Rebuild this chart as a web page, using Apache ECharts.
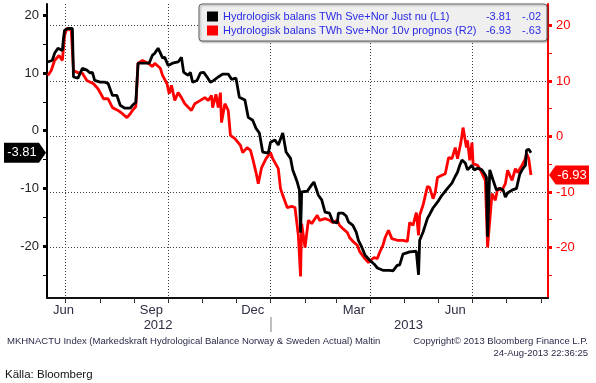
<!DOCTYPE html>
<html><head><meta charset="utf-8">
<script src="https://cdn.jsdelivr.net/npm/echarts@6/dist/echarts.min.js"></script>
<style>html,body{margin:0;padding:0;background:#fff}#c{width:596px;height:383px}</style>
</head><body><div id="c"></div><script>
// ---- data ----
const seriesNames = ['Hydrologisk balans TWh Sve+Nor Just nu (L1)', 'Hydrologisk balans TWh Sve+Nor 10v prognos (R2)'];
const legendValues = [['-3.81', '-.02'], ['-6.93', '-.63']];
const blackDates = ['2012-06-15','2012-06-19','2012-06-21','2012-06-24','2012-06-28','2012-06-29','2012-06-30','2012-07-03','2012-07-07','2012-07-08','2012-07-12','2012-07-16','2012-07-20','2012-07-23','2012-07-25','2012-07-27','2012-08-01','2012-08-05','2012-08-08','2012-08-12','2012-08-16','2012-08-19','2012-08-23','2012-08-28','2012-08-30','2012-09-02','2012-09-04','2012-09-10','2012-09-14','2012-09-17','2012-09-19','2012-09-22','2012-09-26','2012-09-28','2012-10-01','2012-10-05','2012-10-10','2012-10-13','2012-10-15','2012-10-19','2012-10-21','2012-10-23','2012-10-27','2012-10-30','2012-11-02','2012-11-05','2012-11-08','2012-11-11','2012-11-15','2012-11-19','2012-11-24','2012-11-27','2012-12-01','2012-12-04','2012-12-09','2012-12-12','2012-12-16','2012-12-19','2012-12-22','2012-12-25','2012-12-30','2013-01-01','2013-01-05','2013-01-08','2013-01-12','2013-01-15','2013-01-19','2013-01-21','2013-01-25','2013-01-27','2013-01-28','2013-01-29','2013-02-03','2013-02-07','2013-02-09','2013-02-13','2013-02-16','2013-02-19','2013-02-23','2013-02-26','2013-03-02','2013-03-03','2013-03-07','2013-03-10','2013-03-12','2013-03-16','2013-03-19','2013-03-21','2013-03-24','2013-03-27','2013-03-31','2013-04-04','2013-04-07','2013-04-12','2013-04-18','2013-04-21','2013-04-25','2013-04-27','2013-04-30','2013-05-06','2013-05-12','2013-05-14','2013-05-15','2013-05-18','2013-05-22','2013-05-24','2013-05-27','2013-05-31','2013-06-04','2013-06-09','2013-06-13','2013-06-16','2013-06-18','2013-06-20','2013-06-22','2013-06-25','2013-06-27','2013-07-01','2013-07-03','2013-07-06','2013-07-10','2013-07-13','2013-07-14','2013-07-15','2013-07-17','2013-07-20','2013-07-23','2013-07-26','2013-07-29','2013-07-31','2013-08-02','2013-08-06','2013-08-10','2013-08-13','2013-08-16','2013-08-18','2013-08-19','2013-08-21','2013-08-23'];
const blackValues = [11.9,12.2,13.4,14.3,13.9,16.0,17.4,17.7,17.7,9.3,9.1,10.8,10.5,10.0,10.1,8.7,8.4,8.4,8.2,6.1,6.1,4.4,3.9,3.9,4.4,4.9,11.7,11.7,11.7,13.1,13.4,14.3,12.6,12.7,11.3,11.7,11.9,12.7,10.1,9.6,10.1,8.4,8.7,10.0,10.1,9.3,8.4,8.7,9.3,9.8,9.8,8.9,9.1,5.8,5.3,2.3,1.8,0.4,-0.4,-3.7,-3.9,-2.0,-1.6,-2.5,-0.4,-3.7,-4.8,-6.8,-8.9,-10.3,-17.7,-10.6,-10.5,-9.4,-8.9,-11.2,-12.0,-14.1,-14.3,-15.8,-16.0,-14.3,-14.3,-14.8,-15.8,-16.4,-17.6,-19.0,-20.2,-21.6,-22.4,-23.1,-23.8,-24.2,-24.2,-24.3,-23.3,-23.3,-21.4,-21.0,-20.9,-25.0,-19.0,-17.6,-15.2,-14.5,-13.4,-12.4,-11.2,-10.0,-9.1,-7.9,-7.2,-6.0,-5.1,-5.6,-6.8,-6.0,-6.8,-6.5,-6.8,-7.7,-8.1,-18.4,-6.8,-8.6,-10.3,-10.0,-10.3,-11.5,-10.8,-10.3,-10.0,-7.5,-6.5,-6.0,-3.4,-3.2,-3.81];
const redDates = ['2012-06-15','2012-06-18','2012-06-21','2012-06-25','2012-06-28','2012-06-30','2012-07-02','2012-07-06','2012-07-08','2012-07-12','2012-07-16','2012-07-20','2012-07-26','2012-07-30','2012-08-04','2012-08-08','2012-08-12','2012-08-17','2012-08-21','2012-08-25','2012-08-28','2012-08-30','2012-09-02','2012-09-04','2012-09-08','2012-09-13','2012-09-17','2012-09-19','2012-09-24','2012-09-26','2012-09-30','2012-10-02','2012-10-04','2012-10-07','2012-10-10','2012-10-13','2012-10-16','2012-10-22','2012-10-25','2012-10-30','2012-11-03','2012-11-06','2012-11-09','2012-11-10','2012-11-13','2012-11-15','2012-11-17','2012-11-18','2012-11-21','2012-11-24','2012-11-26','2012-11-30','2012-12-05','2012-12-07','2012-12-11','2012-12-14','2012-12-16','2012-12-19','2012-12-21','2012-12-24','2012-12-28','2013-01-01','2013-01-03','2013-01-08','2013-01-10','2013-01-12','2013-01-16','2013-01-20','2013-01-23','2013-01-26','2013-01-28','2013-01-29','2013-02-01','2013-02-04','2013-02-07','2013-02-12','2013-02-14','2013-02-19','2013-02-23','2013-02-26','2013-03-02','2013-03-04','2013-03-07','2013-03-11','2013-03-13','2013-03-16','2013-03-20','2013-03-22','2013-03-26','2013-03-30','2013-04-01','2013-04-04','2013-04-07','2013-04-09','2013-04-12','2013-04-14','2013-04-17','2013-04-20','2013-04-25','2013-04-30','2013-05-04','2013-05-06','2013-05-09','2013-05-12','2013-05-14','2013-05-15','2013-05-18','2013-05-22','2013-05-24','2013-05-27','2013-05-29','2013-05-31','2013-06-04','2013-06-07','2013-06-10','2013-06-13','2013-06-16','2013-06-18','2013-06-21','2013-06-23','2013-06-26','2013-06-27','2013-06-29','2013-07-01','2013-07-02','2013-07-06','2013-07-08','2013-07-13','2013-07-15','2013-07-19','2013-07-22','2013-07-24','2013-07-28','2013-07-31','2013-08-02','2013-08-06','2013-08-09','2013-08-11','2013-08-15','2013-08-18','2013-08-19','2013-08-21','2013-08-23'];
const redValues = [11.0,11.9,13.7,14.6,13.7,18.2,19.5,19.1,11.9,11.5,11.4,10.1,9.5,8.6,6.8,6.8,5.2,4.7,4.1,3.4,4.1,4.7,5.4,13.2,13.7,13.2,12.6,13.2,12.3,11.0,9.5,7.7,9.2,6.5,7.9,7.0,5.9,4.7,5.9,6.5,7.0,6.5,7.4,5.2,7.6,5.2,7.9,2.5,5.9,4.7,0.2,-0.4,-1.6,-2.9,-2.0,-2.5,-4.0,-6.5,-8.5,-5.6,-4.0,-2.9,-4.0,-5.8,-9.4,-10.6,-12.8,-12.6,-12.8,-17.8,-25.2,-15.7,-20.0,-15.1,-15.7,-14.2,-15.1,-14.8,-15.1,-15.5,-15.1,-16.0,-16.6,-17.3,-18.2,-18.9,-19.6,-20.7,-21.8,-22.7,-22.3,-21.8,-22.0,-20.9,-19.6,-18.2,-16.9,-18.4,-18.7,-18.7,-18.9,-15.5,-16.0,-13.7,-17.8,-14.2,-12.4,-9.0,-9.2,-11.2,-10.1,-7.4,-7.0,-6.7,-3.8,-4.0,-2.0,-4.0,-1.1,1.6,-2.0,-0.7,-4.3,-1.1,-4.9,-5.2,-5.8,-7.9,-20.0,-10.3,-11.5,-9.4,-9.7,-8.5,-6.1,-7.9,-5.8,-6.5,-5.2,-4.0,-3.1,-4.0,-6.93];
const monthTickDates = ['2012-07-01','2012-08-01','2012-09-01','2012-10-01','2012-11-01','2012-12-01','2013-01-01','2013-02-01','2013-03-01','2013-04-01','2013-05-01','2013-06-01','2013-07-01','2013-08-01','2013-09-01'];
const gridDates = ['2012-07-01','2012-10-01','2013-01-01','2013-04-01','2013-07-01'];
const monthLabels = ['Jun','Sep','Dec','Mar','Jun'];
const monthLabelDates = ['2012-06-29','2012-09-16','2012-12-16','2013-03-17','2013-06-16'];
const yearLabels = ['2012','2013'];
const yearLabelDates = ['2012-09-22','2013-05-05'];
const yearSepDates = ['2013-01-01'];
const majorTicks = [-20,-10,0,10,20];
const minorTicks = [-25,-15,-5,5,15];

// ---- helpers ----
const ORIGIN = Date.UTC(2012,6,1);
function dayOf(s){const p=s.split('-').map(Number);return (Date.UTC(p[0],p[1]-1,p[2])-ORIGIN)/864e5;}
function pairs(ds,vs){return ds.map((d,i)=>[dayOf(d),vs[i]]);}
function lookup(v,ds,labels){for(let i=0;i<ds.length;i++){if(Math.abs(dayOf(ds[i])-v)<0.01)return labels[i];}return '';}
const X_MIN=-16.8, X_MAX=433.3;
const FONT='Liberation Sans';

const chart = echarts.init(document.getElementById('c'), null, {renderer:'canvas'});
const xBase = {type:'value', min:X_MIN, max:X_MAX, gridIndex:0};
const lastBlack = blackValues[blackValues.length-1];
const lastRed = redValues[redValues.length-1];
const gridStyle = {color:'#3a3a3a',width:1,type:[1,2]};

chart.setOption({
  animation:false,
  backgroundColor:'#fff',
  grid:{left:47,right:48,top:4,bottom:85},
  legend:{
    data:[seriesNames[0],seriesNames[1]],
    orient:'vertical', left:199, top:4,
    itemWidth:11, itemHeight:10, itemGap:3, icon:'rect',
    padding:[7,6,5,8],
    backgroundColor:'#efefef', borderColor:'#666', borderWidth:1, borderRadius:3,
    shadowColor:'rgba(0,0,0,0.35)', shadowBlur:2, shadowOffsetX:1, shadowOffsetY:1,
    selectedMode:false,
    formatter:function(name){const i=seriesNames.indexOf(name);return '{n|'+name+'}{v|'+legendValues[i][0]+'}{w|'+legendValues[i][1]+'}';},
    textStyle:{color:'#2a2ae6',fontFamily:FONT,fontSize:11,
      rich:{n:{width:240,align:'left',color:'#2a2ae6',fontFamily:FONT,fontSize:11},
            v:{width:48,align:'right',color:'#2a2ae6',fontFamily:FONT,fontSize:11},
            w:{width:30,align:'right',color:'#2a2ae6',fontFamily:FONT,fontSize:11}}}
  },
  xAxis:[
    Object.assign({},xBase,{position:'bottom',
      axisLine:{show:true,onZero:false,lineStyle:{color:'#111',width:2}},
      axisTick:{show:true,length:5,lineStyle:{color:'#333',width:1},customValues:monthTickDates.map(dayOf)},
      axisLabel:{show:true,customValues:monthLabelDates.map(dayOf),formatter:v=>lookup(v,monthLabelDates,monthLabels),
        color:'#2e2e44',fontFamily:FONT,fontSize:13,margin:6},
      splitLine:{show:false}}),
    Object.assign({},xBase,{position:'bottom',
      axisLine:{show:false,onZero:false},axisTick:{show:false,customValues:gridDates.map(dayOf)},axisLabel:{show:false},
      splitLine:{show:true,lineStyle:gridStyle}}),
    Object.assign({},xBase,{position:'bottom',offset:19,
      axisLine:{show:false,onZero:false},
      axisTick:{show:true,length:15,lineStyle:{color:'#aaa',width:1.5},customValues:yearSepDates.map(dayOf)},
      axisLabel:{show:true,customValues:yearLabelDates.map(dayOf),formatter:v=>lookup(v,yearLabelDates,yearLabels),
        color:'#2e2e44',fontFamily:FONT,fontSize:13,margin:2},
      splitLine:{show:false}})
  ],
  yAxis:[
    {type:'value',position:'left',min:-29,max:21.95,
      axisLine:{show:true,onZero:false,lineStyle:{color:'#000',width:2}},
      axisTick:{show:true,length:4,lineStyle:{color:'#000',width:3},customValues:majorTicks},
      axisLabel:{show:true,customValues:majorTicks,color:'#222',fontFamily:FONT,fontSize:13,margin:8},
      splitLine:{show:false}},
    {type:'value',position:'left',min:-29,max:21.95,
      axisLine:{show:false,onZero:false},
      axisTick:{show:true,length:4,lineStyle:{color:'#000',width:1},customValues:minorTicks},
      axisLabel:{show:false},splitLine:{show:false}},
    {type:'value',position:'right',min:-29.1,max:23.87,
      axisLine:{show:true,onZero:false,lineStyle:{color:'#ff0000',width:2}},
      axisTick:{show:true,length:4,lineStyle:{color:'#ff0000',width:3},customValues:majorTicks},
      axisLabel:{show:true,customValues:majorTicks,color:'#ff0000',fontFamily:FONT,fontSize:13,margin:8},
      splitLine:{show:true,lineStyle:gridStyle}},
    {type:'value',position:'right',min:-29.1,max:23.87,
      axisLine:{show:false,onZero:false},
      axisTick:{show:true,length:4,lineStyle:{color:'#ff0000',width:1},customValues:minorTicks},
      axisLabel:{show:false},splitLine:{show:false}}
  ],
  series:[
    {name:seriesNames[1],type:'line',xAxisIndex:0,yAxisIndex:2,data:pairs(redDates,redValues),
      showSymbol:false,symbol:'none',clip:false,z:2,
      lineStyle:{color:'#ff0000',width:2.8},itemStyle:{color:'#ff0000'},
      markPoint:{silent:true,symbol:'path://M8,0 L48,0 L48,20 L8,20 L0,10 Z',symbolSize:[40,19],symbolOffset:[21,0],
        itemStyle:{color:'#ff0000'},
        label:{show:true,position:'inside',offset:[3,0],color:'#fff',fontFamily:FONT,fontSize:13,formatter:()=>lastRed.toFixed(2)},
        data:[{coord:[X_MAX,lastRed]}]}},
    {name:seriesNames[0],type:'line',xAxisIndex:0,yAxisIndex:0,data:pairs(blackDates,blackValues),
      showSymbol:false,symbol:'none',clip:false,z:3,
      lineStyle:{color:'#000',width:2.8},itemStyle:{color:'#000'},
      markPoint:{silent:true,symbol:'path://M0,0 L40,0 L48,10 L40,20 L0,20 Z',symbolSize:[42,20],symbolOffset:[-22,0],
        itemStyle:{color:'#000'},
        label:{show:true,position:'inside',offset:[-3,0],color:'#fff',fontFamily:FONT,fontSize:13,formatter:()=>lastBlack.toFixed(2)},
        data:[{coord:[X_MIN,lastBlack]}]}}
  ],
  graphic:[
    {type:'text',left:7,top:336,style:{text:'MKHNACTU Index (Markedskraft Hydrological Balance Norway & Sweden Actual) Maltin',fill:'#2a2a48',font:'9.5px "Liberation Sans"'}},
    {type:'text',right:8,top:336,style:{text:'Copyright\u00a9 2013 Bloomberg Finance L.P.',fill:'#2a2a48',font:'9.5px "Liberation Sans"',textAlign:'right'}},
    {type:'text',right:8,top:348,style:{text:'24-Aug-2013 22:36:25',fill:'#2a2a48',font:'9.5px "Liberation Sans"',textAlign:'right'}},
    {type:'text',left:5,top:369,style:{text:'K\u00e4lla: Bloomberg',fill:'#111',font:'11.5px "Liberation Sans"'}}
  ]
});
</script></body></html>
